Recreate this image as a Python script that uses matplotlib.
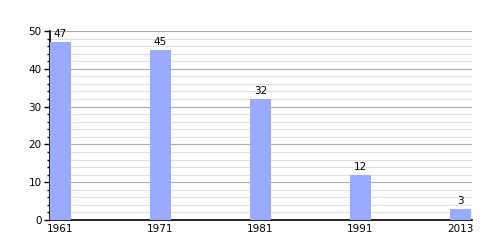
import numpy as np
import matplotlib.pyplot as plt
from matplotlib.ticker import MultipleLocator

years = ["1961", "1971", "1981", "1991", "2013"]
values = [47, 45, 32, 12, 3]

bar_w = 0.21
pos = np.arange(len(years))

fig = plt.figure(figsize=(5, 2.5), dpi=100)
ax = fig.add_axes([0.1, 0.12, 0.844, 0.756])

ax.bar(pos, values, width=bar_w, align="edge", color="#99aaff", zorder=3)
for x, v in zip(pos, values):
    ax.text(x + bar_w / 2, v + 0.8, str(v), ha="center", va="bottom", fontsize=7.5, zorder=4)

ax.set_xlim(0, pos[-1] + bar_w + 0.01)
ax.set_ylim(0, 50)
ax.set_xticks(pos + bar_w / 2)
ax.set_xticklabels(years, fontsize=7.5)
ax.tick_params(axis="x", length=0, pad=3)

ax.yaxis.set_major_locator(MultipleLocator(10))
ax.yaxis.set_minor_locator(MultipleLocator(2))
ax.tick_params(axis="y", which="major", length=4, width=1, labelsize=7.5, pad=2)
ax.tick_params(axis="y", which="minor", length=2.5, width=1)
ax.grid(axis="y", which="major", color="#aaaaaa", linewidth=0.8, zorder=0)
ax.grid(axis="y", which="minor", color="#e0e0e0", linewidth=0.8, zorder=0)

for s in ["top", "right"]:
    ax.spines[s].set_visible(False)
ax.spines["left"].set_linewidth(1.2)
ax.spines["bottom"].set_linewidth(1.2)

fig.savefig("out.png")
